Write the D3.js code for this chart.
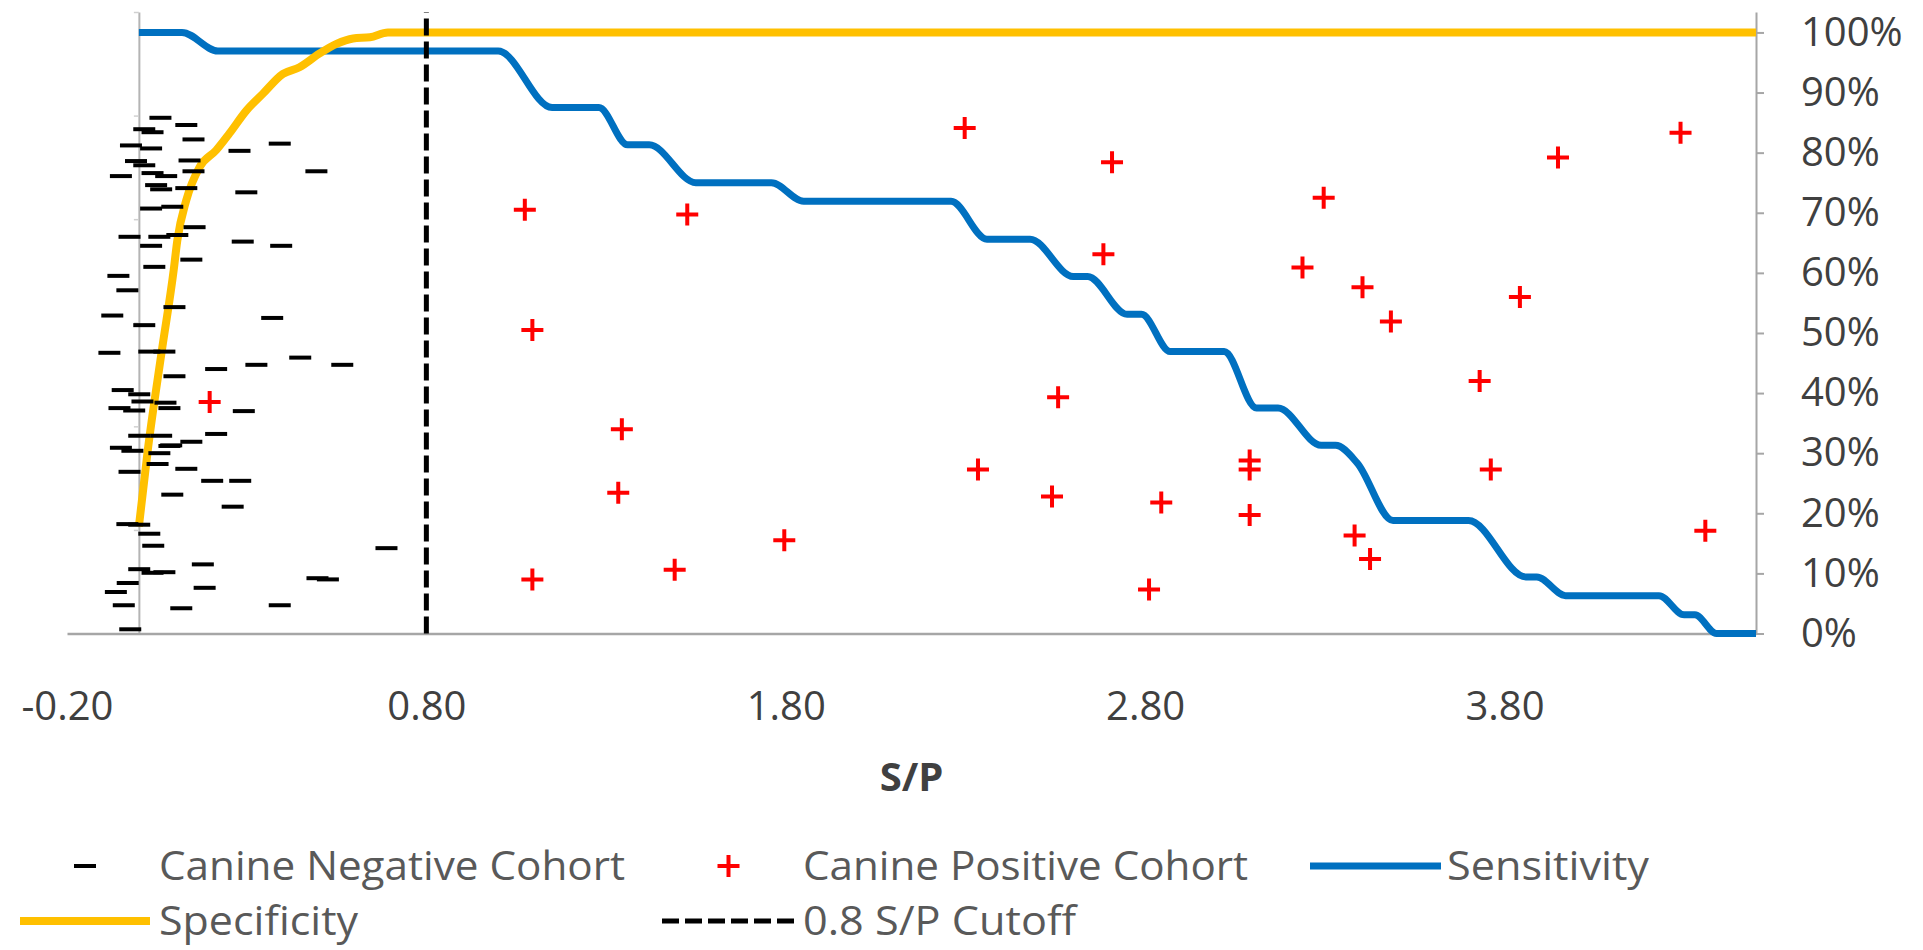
<!DOCTYPE html>
<html>
<head>
<meta charset="utf-8">
<script src="https://cdn.jsdelivr.net/npm/d3@7"></script>
<style>
  body { margin: 0; background: #ffffff; }
  svg { display: block; font-family: "Open Sans", "Noto Sans", sans-serif; }
</style>
</head>
<body>
<svg id="chart" width="1923" height="950"></svg>
<script>
// ---- S/P values and vertical jitter (%) of the two cohorts ----
const negativeCohort = [
  [0.060,85.8],[0.132,84.6],[0.015,83.9],[0.038,83.4],[0.152,82.2],[0.392,81.5],[0.280,80.3],
  [-0.022,81.2],[0.034,80.7],[0.141,78.7],[-0.008,78.6],[0.015,77.9],[0.494,76.9],[0.152,76.9],
  [-0.050,76.1],[0.038,76.6],[0.076,76.1],[0.048,74.6],[0.062,73.9],[0.132,74.1],[0.299,73.4],
  [0.034,70.7],[0.093,71.0],[0.155,67.6],[-0.026,66.0],[0.057,66.0],[0.107,66.3],[0.289,65.2],
  [0.396,64.5],[0.034,64.5],[0.146,62.2],[0.043,61.0],[-0.057,59.5],[-0.032,57.1],[0.099,54.3],
  [-0.074,52.9],[0.015,51.3],[0.371,52.5],[-0.082,46.7],[0.029,46.9],[0.071,46.9],[0.215,44.0],
  [0.327,44.7],[0.449,45.9],[0.566,44.7],[0.099,42.8],[-0.045,40.5],[0.001,39.8],[0.074,38.4],
  [0.010,38.6],[-0.054,37.5],[-0.013,37.1],[0.085,37.5],[0.292,37.0],[0.215,33.2],[0.062,32.9],
  [0.001,32.9],[0.146,31.9],[0.090,31.3],[-0.050,30.9],[-0.018,30.4],[0.057,30.0],[0.085,31.2],
  [0.052,28.2],[0.132,27.4],[-0.026,26.9],[0.204,25.4],[0.282,25.4],[0.093,23.1],[0.261,21.1],
  [0.001,18.1],[-0.032,18.2],[0.029,16.6],[0.040,14.6],[0.689,14.2],[0.178,11.5],[0.001,10.7],
  [0.038,10.1],[0.071,10.2],[0.526,9.0],[0.497,9.2],[0.183,7.6],[-0.031,8.4],[-0.064,6.9],
  [-0.042,4.7],[0.118,4.2],[0.392,4.7],[-0.024,0.7]
];
const positiveCohort = [
  [0.197,38.5],[1.074,70.5],[1.095,50.5],[1.095,9.0],[1.344,34.0],[1.334,23.4],[1.526,69.7],
  [1.491,10.6],[1.796,15.5],[2.298,84.1],[2.335,27.3],[2.558,39.3],[2.541,22.8],[2.708,78.4],
  [2.684,63.1],[2.845,21.8],[2.811,7.3],[3.091,28.8],[3.091,27.3],[3.091,19.7],[3.297,72.5],
  [3.238,60.9],[3.405,57.6],[3.484,51.9],[3.383,16.3],[3.426,12.4],[3.843,56.0],[3.731,42.0],
  [3.762,27.3],[3.949,79.2],[4.290,83.3],[4.359,17.1]
];

// ---- Sensitivity / specificity curves (cutoff S/P, percent) ----
const sensCutoff = [0.00,0.12,0.22,1.00,1.15,1.28,1.36,1.42,1.55,1.76,1.85,2.26,2.36,2.48,2.60,2.64,
                    2.75,2.79,2.87,3.02,3.11,3.17,3.29,3.33,3.39,3.49,3.70,3.86,3.89,3.97,4.23,4.30,
                    4.33,4.39,4.50];
const sensValue  = [100,100,96.9,96.9,87.5,87.5,81.3,81.3,75.0,75.0,71.9,71.9,65.6,65.6,59.4,59.4,
                    53.1,53.1,46.9,46.9,37.5,37.5,31.3,31.3,28.4,18.8,18.8,9.4,9.4,6.3,6.3,3.1,
                    3.1,0,0];
const specCutoff = [0.000,0.025,0.063,0.097,0.107,0.132,0.169,0.215,0.252,0.299,0.345,0.401,0.447,
                    0.503,0.550,0.596,0.643,0.693,4.50];
const specValue  = [17.8,30.6,46.7,60.5,65.4,72.1,77.6,80.4,83.2,87.0,89.8,93.1,94.2,96.5,98.1,
                    99.0,99.2,100,100];

const cutoffSP = 0.8;
const xTicks = [-0.2, 0.8, 1.8, 2.8, 3.8];
const pctTicks = [0, 10, 20, 30, 40, 50, 60, 70, 80, 90, 100];
const jitterTicks = [0, 0.2, 0.4, 0.6, 0.8, 1.0, 1.2];

const legendItems = [
  { label: "Canine Negative Cohort", kind: "neg",  col: 0, row: 0, width: 466 },
  { label: "Canine Positive Cohort", kind: "pos",  col: 1, row: 0, width: 445 },
  { label: "Sensitivity",            kind: "sens", col: 2, row: 0, width: 202 },
  { label: "Specificity",            kind: "spec", col: 0, row: 1, width: 199 },
  { label: "0.8 S/P Cutoff",         kind: "cut",  col: 1, row: 1, width: 273 }
];

// ---- drawing ----
const svg = d3.select("#chart");
const BLUE = "#0070C0", GOLD = "#FFC000", RED = "#FF0000", AXIS = "#A6A6A6";

const x  = d3.scaleLinear().domain([-0.2, 4.5]).range([67, 1756]);
const y  = d3.scaleLinear().domain([0, 103.4]).range([633.5, 12]);   // percent axis (right)
const yJ = d3.scaleLinear().domain([0, 1.2]).range([633.5, 12]);     // jitter axis (left)

// left (jitter) axis at S/P = 0
const leftAxis = svg.append("g")
  .attr("transform", `translate(${x(0)},0)`)
  .call(d3.axisLeft(yJ).tickValues(jitterTicks).tickSize(5).tickSizeOuter(0).tickFormat(""));
leftAxis.select(".domain").attr("stroke", "#B4B4B4").attr("stroke-width", 2);
leftAxis.selectAll(".tick line").attr("stroke", "#D0D0D0").attr("stroke-width", 1.5);

// bottom axis
const bottomAxis = svg.append("g")
  .attr("transform", `translate(0,${y(0)})`)
  .call(d3.axisBottom(x).tickValues(xTicks).tickSize(0).tickSizeOuter(0).tickPadding(58)
        .tickFormat(d => d.toFixed(2)));
bottomAxis.select(".domain").attr("stroke", AXIS).attr("stroke-width", 2.5);
bottomAxis.selectAll(".tick text")
  .attr("font-family", "Open Sans").attr("font-size", 40).attr("fill", "#404040");

// right (percent) axis
const rightAxis = svg.append("g")
  .attr("transform", `translate(${x(4.5)},0)`)
  .call(d3.axisRight(y).tickValues(pctTicks).tickSize(8).tickSizeOuter(0).tickPadding(37)
        .tickFormat(d => d + "%"));
rightAxis.select(".domain").attr("stroke", AXIS).attr("stroke-width", 2);
rightAxis.selectAll(".tick line").attr("stroke", AXIS).attr("stroke-width", 2);
rightAxis.selectAll(".tick text")
  .attr("font-family", "Open Sans").attr("font-size", 40).attr("fill", "#404040");

// axis title
svg.append("text")
  .attr("x", (x(-0.2) + x(4.5)) / 2).attr("y", 791)
  .attr("text-anchor", "middle")
  .attr("font-size", 40).attr("font-weight", "bold").attr("fill", "#404040")
  .text("S/P");

// curves
const curveLine = d3.line()
  .x(d => x(d[0])).y(d => y(d[1]))
  .curve(d3.curveMonotoneX);

svg.append("path")
  .datum(sensCutoff.map((c, i) => [c, sensValue[i]]))
  .attr("d", curveLine)
  .attr("fill", "none").attr("stroke", BLUE).attr("stroke-width", 7)
  .attr("stroke-linejoin", "round");

svg.append("path")
  .datum(specCutoff.map((c, i) => [c, specValue[i]]))
  .attr("d", curveLine)
  .attr("fill", "none").attr("stroke", GOLD).attr("stroke-width", 8)
  .attr("stroke-linejoin", "round");

// cutoff line
svg.append("line")
  .attr("x1", x(cutoffSP)).attr("x2", x(cutoffSP))
  .attr("y1", yJ(0)).attr("y2", yJ(1.2))
  .attr("stroke", "#000").attr("stroke-width", 5).attr("stroke-dasharray", "17 6");

// markers
function dash(g, cx, cy) {
  g.append("line").attr("x1", cx - 11).attr("x2", cx + 11).attr("y1", cy).attr("y2", cy)
    .attr("stroke", "#000").attr("stroke-width", 4);
}
function plus(g, cx, cy) {
  g.append("path").attr("d", `M${cx - 11},${cy}H${cx + 11}M${cx},${cy - 11}V${cy + 11}`)
    .attr("stroke", RED).attr("stroke-width", 4).attr("fill", "none");
}

const negG = svg.append("g");
negativeCohort.forEach(d => dash(negG, x(d[0]), y(d[1])));
const posG = svg.append("g");
positiveCohort.forEach(d => plus(posG, x(d[0]), y(d[1])));

// legend
const colSym = [[20, 150], [662, 795], [1310, 1441]];
const colText = [159, 803, 1447];
const rowY = [866, 921];
const leg = svg.append("g");
legendItems.forEach(it => {
  const [s0, s1] = colSym[it.col];
  const cy = rowY[it.row];
  const mid = (s0 + s1) / 2;
  if (it.kind === "neg") dash(leg, mid, cy);
  else if (it.kind === "pos") plus(leg, mid, cy);
  else if (it.kind === "sens")
    leg.append("line").attr("x1", s0).attr("x2", s1).attr("y1", cy).attr("y2", cy)
      .attr("stroke", BLUE).attr("stroke-width", 7);
  else if (it.kind === "spec")
    leg.append("line").attr("x1", s0).attr("x2", s1).attr("y1", cy).attr("y2", cy)
      .attr("stroke", GOLD).attr("stroke-width", 8);
  else
    leg.append("line").attr("x1", s0).attr("x2", s1).attr("y1", cy).attr("y2", cy)
      .attr("stroke", "#000").attr("stroke-width", 5).attr("stroke-dasharray", "17 6");
  leg.append("text")
    .attr("x", colText[it.col]).attr("y", cy + 14)
    .attr("font-size", 40).attr("fill", "#595959")
    .attr("textLength", it.width).attr("lengthAdjust", "spacingAndGlyphs")
    .text(it.label);
});
</script>
</body>
</html>
